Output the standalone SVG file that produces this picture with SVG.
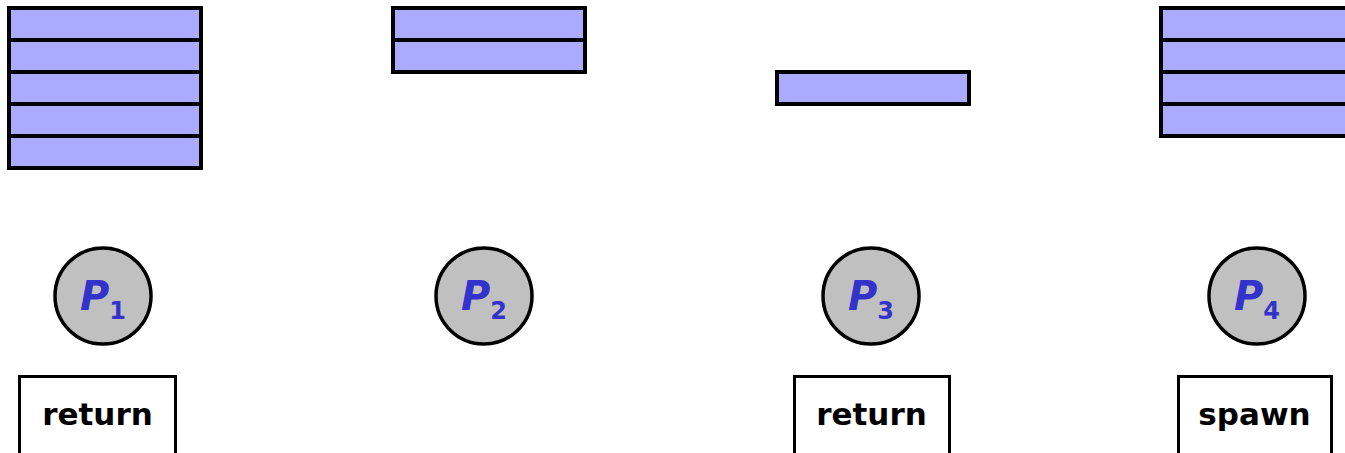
<svg xmlns="http://www.w3.org/2000/svg" width="1345" height="453" viewBox="0 0 1345 453">
<style>
.frame{fill:#aaaaff;stroke:#000;stroke-width:4}
.proc{fill:#c0c0c0;stroke:#000;stroke-width:3.500}
.lbl{fill:#3333cc;font-family:"DejaVu Sans",sans-serif;font-weight:bold}
.p{font-style:italic;font-size:40px}
.sub{font-size:24px}
.box{fill:#fff;stroke:#000;stroke-width:3}
.cmd{font-family:"DejaVu Sans",sans-serif;font-weight:bold;font-size:31px;fill:#000;text-anchor:middle}
</style>
<g id="stack1">
<rect class="frame" x="9" y="8" width="192" height="32"/>
<rect class="frame" x="9" y="40" width="192" height="32"/>
<rect class="frame" x="9" y="72" width="192" height="32"/>
<rect class="frame" x="9" y="104" width="192" height="32"/>
<rect class="frame" x="9" y="136" width="192" height="32"/>
</g>
<g id="stack2">
<rect class="frame" x="393" y="8" width="192" height="32"/>
<rect class="frame" x="393" y="40" width="192" height="32"/>
</g>
<g id="stack3">
<rect class="frame" x="777" y="72" width="192" height="32"/>
</g>
<g id="stack4">
<rect class="frame" x="1161" y="8" width="192" height="32"/>
<rect class="frame" x="1161" y="40" width="192" height="32"/>
<rect class="frame" x="1161" y="72" width="192" height="32"/>
<rect class="frame" x="1161" y="104" width="192" height="32"/>
</g>
<g id="P1">
<circle class="proc" cx="103" cy="296" r="48"/>
<text class="lbl" x="80" y="310"><tspan class="p">P</tspan><tspan class="sub" dy="9">1</tspan></text>
</g>
<g id="P2">
<circle class="proc" cx="484" cy="296" r="48"/>
<text class="lbl" x="461" y="310"><tspan class="p">P</tspan><tspan class="sub" dy="9">2</tspan></text>
</g>
<g id="P3">
<circle class="proc" cx="871" cy="296" r="48"/>
<text class="lbl" x="848" y="310"><tspan class="p">P</tspan><tspan class="sub" dy="9">3</tspan></text>
</g>
<g id="P4">
<circle class="proc" cx="1257" cy="296" r="48"/>
<text class="lbl" x="1234" y="310"><tspan class="p">P</tspan><tspan class="sub" dy="9">4</tspan></text>
</g>
<g id="ret1">
<rect class="box" x="19.500" y="376.500" width="156" height="80"/>
<text class="cmd" x="97.500" y="425">return</text>
</g>
<g id="ret3">
<rect class="box" x="794.500" y="376.500" width="155" height="80"/>
<text class="cmd" x="871.500" y="425">return</text>
</g>
<g id="spawn4">
<rect class="box" x="1178.500" y="376.500" width="153" height="80"/>
<text class="cmd" x="1254.500" y="425">spawn</text>
</g>
<g id="connectors"/>
</svg>
